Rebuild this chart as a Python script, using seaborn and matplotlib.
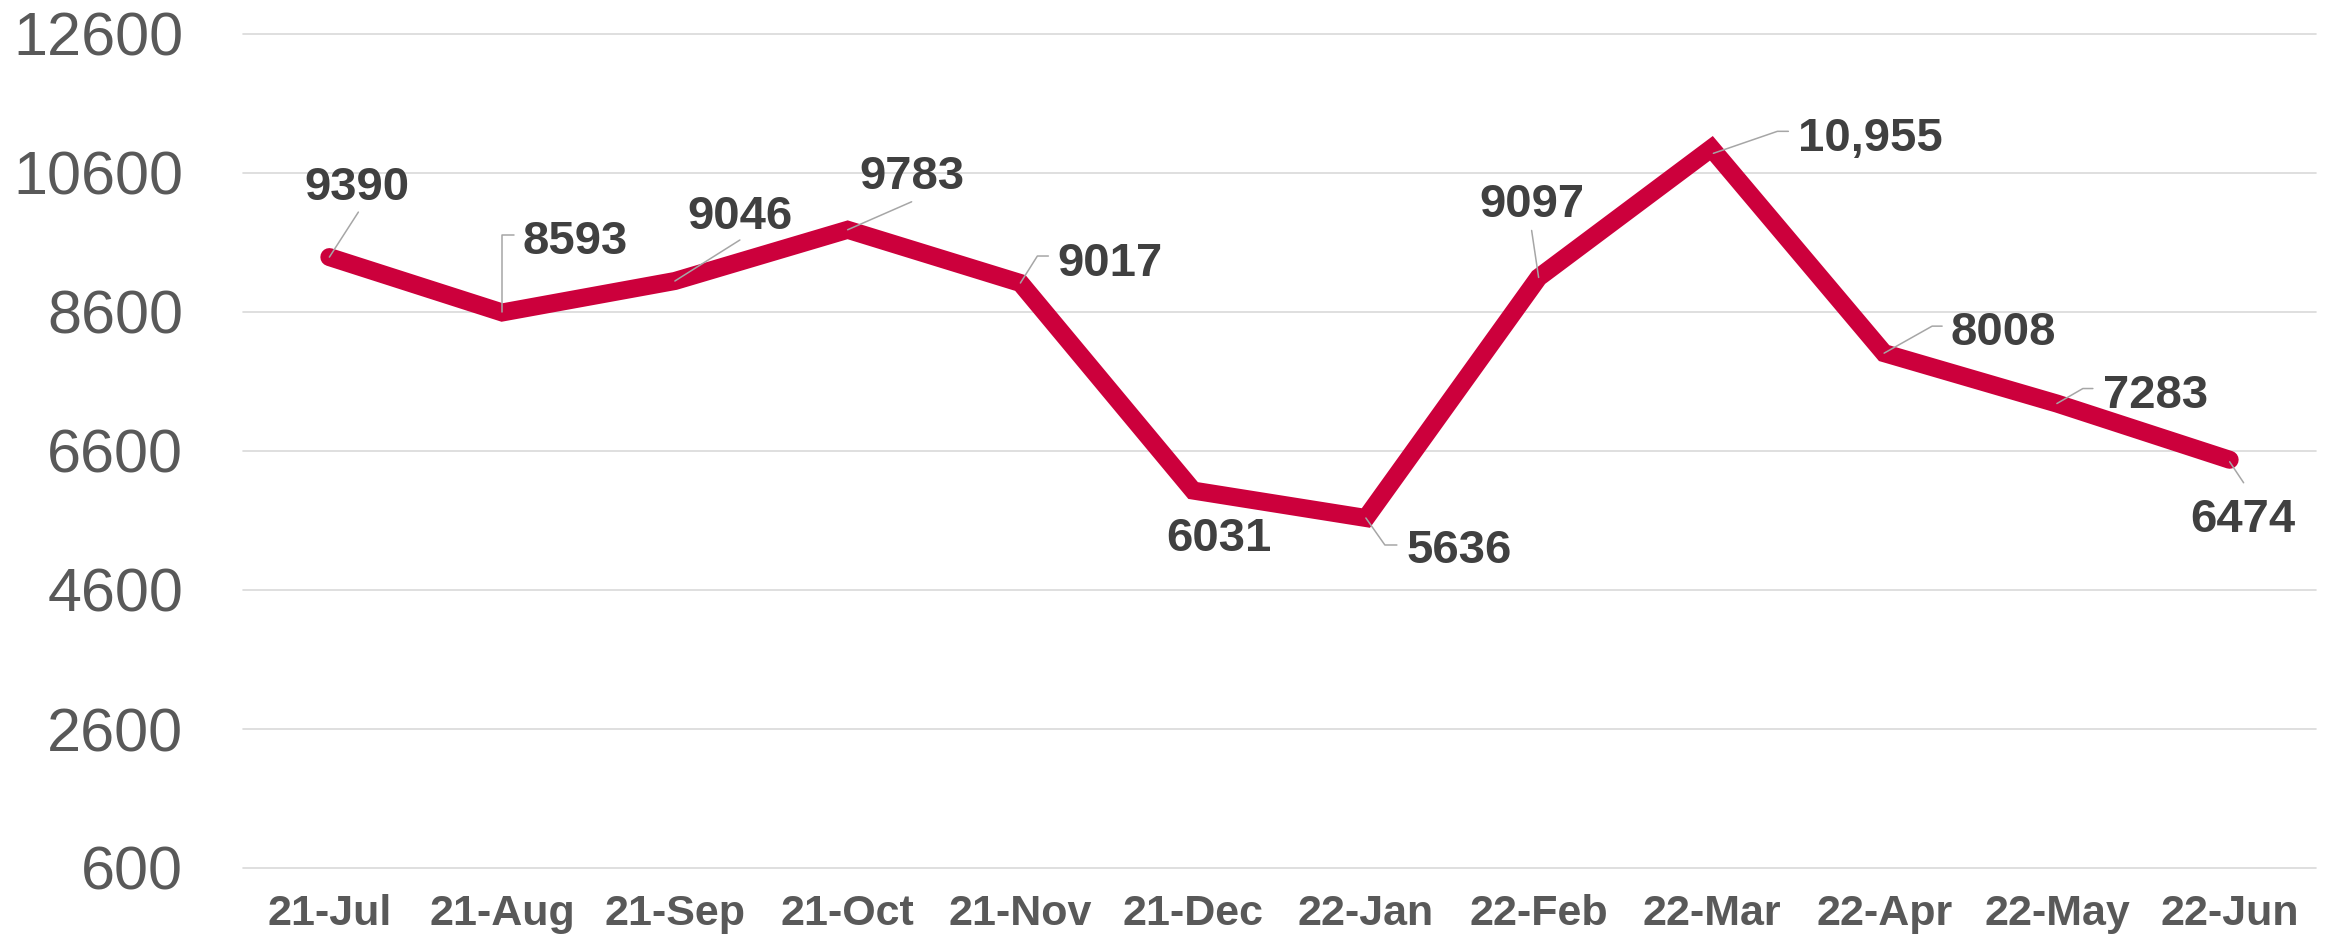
import matplotlib
matplotlib.use('Agg')
import matplotlib.pyplot as plt
import matplotlib.transforms as mtransforms
from matplotlib.lines import Line2D
import pandas as pd
import seaborn as sns

# chart data
months = ['21-Jul', '21-Aug', '21-Sep', '21-Oct', '21-Nov', '21-Dec',
          '22-Jan', '22-Feb', '22-Mar', '22-Apr', '22-May', '22-Jun']
values = [9390, 8593, 9046, 9783, 9017, 6031, 5636, 9097, 10955, 8008, 7283, 6474]
value_text = ['9390', '8593', '9046', '9783', '9017', '6031',
              '5636', '9097', '10,955', '8008', '7283', '6474']
y_ticks = [600, 2600, 4600, 6600, 8600, 10600, 12600]

# label placement, pixel offsets from each point (label centre, leader polyline)
label_offsets = [(28, 75), (73, 76), (65, 70), (64, 58), (90, 25), (26, -43),
                 (93, -28), (-7, 78), (159, 15), (119, 26), (99, 13), (13, -55)]
leaders = [
    [(29, 45), (0, 0)],
    [(0, 0), (0, 77), (12, 77)],
    [(65, 41), (0, 0)],
    [(64, 28), (0, 0)],
    [(0, 0), (17, 27), (28, 27)],
    [],
    [(0, 0), (19, -27), (31, -27)],
    [(-7, 47), (0, 0)],
    [(2, -5), (66, 17), (77, 17)],
    [(0, 0), (48, 27), (58, 27)],
    [(0, 0), (26, 15), (36, 15)],
    [(0, -2), (14, -23)],
]

sns.set_theme(style='white')
plt.rcParams['font.family'] = ['Liberation Sans', 'DejaVu Sans']

W, H = 2331, 941
fig = plt.figure(figsize=(W / 100, H / 100), dpi=100)
ax = fig.add_axes([243 / W, 1 - 868 / H, (2316 - 243) / W, 834 / H])

df = pd.DataFrame({'month': months, 'value': values})
sns.lineplot(data=df, x='month', y='value', ax=ax, sort=False,
             color='#CC003C', linewidth=13, zorder=2)
ln = ax.lines[0]
ln.set_solid_capstyle('round')
ln.set_solid_joinstyle('miter')

ax.set_xlim(-0.5, len(months) - 0.5)
ax.set_ylim(600, 12600)
ax.set_yticks(y_ticks)
ax.set_xlabel('')
ax.set_ylabel('')
for s in ax.spines.values():
    s.set_visible(False)
ax.yaxis.grid(True, color='#D9D9D9', linewidth=1.2)
ax.xaxis.grid(False)
ax.set_axisbelow(True)
for gl in ax.yaxis.get_gridlines():
    gl.set_clip_on(False)

ax.tick_params(axis='y', length=0, pad=43, labelsize=44, labelcolor='#595959')
ax.tick_params(axis='x', length=0, pad=19, labelsize=31, labelcolor='#595959')
for t in ax.get_xticklabels():
    t.set_fontweight('bold')

# data labels with leader lines
for i, (v, txt) in enumerate(zip(values, value_text)):
    dx, dy = label_offsets[i]
    ax.annotate(txt, xy=(i, v), xytext=(dx, dy - 17.5), textcoords='offset pixels',
                ha='center', va='baseline', fontsize=34, fontweight='bold',
                color='#404040', zorder=4)
    if leaders[i]:
        px, py = ax.transData.transform((i, v))
        tr = mtransforms.Affine2D().translate(px, py)
        xs = [p[0] for p in leaders[i]]
        ys = [p[1] for p in leaders[i]]
        fig.add_artist(Line2D(xs, ys, transform=tr, color='#A6A6A6',
                              linewidth=1.1, zorder=3))

fig.savefig('out.png', dpi=100)
